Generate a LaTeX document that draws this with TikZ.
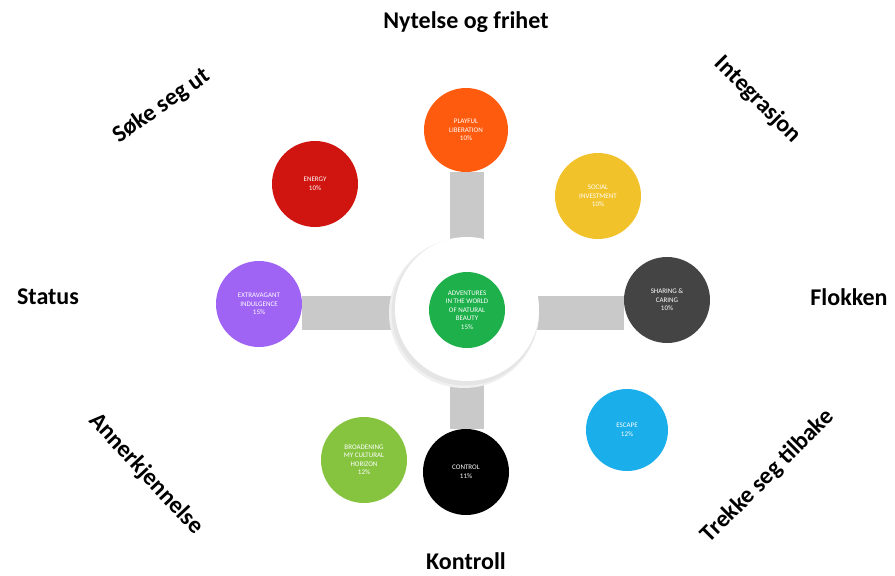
\documentclass[tikz,border=0pt]{standalone}
\usepackage{fontspec}
\setmainfont{Carlito}
\usetikzlibrary{backgrounds}
\definecolor{cOrange}{HTML}{FF5B0F}
\definecolor{cRed}{HTML}{D0140F}
\definecolor{cYellow}{HTML}{F2C22A}
\definecolor{cPurple}{HTML}{A064F5}
\definecolor{cGreen}{HTML}{1DB04B}
\definecolor{cDark}{HTML}{444444}
\definecolor{cLime}{HTML}{86C440}
\definecolor{cBlue}{HTML}{1AAEEB}
\definecolor{cBar}{HTML}{C9C9C9}
\tikzset{
  seg/.style={circle, fill=#1, text=white, minimum size=86pt, inner sep=0pt, align=center,
              font=\fontsize{7}{8.5}\selectfont},
  hub/.style={circle, fill=white, minimum size=144pt, inner sep=0pt},
  bar/.style={cBar, line width=34pt},
  lab/.style={font=\fontsize{24}{29}\selectfont\bfseries, text=black, inner sep=0pt}
}
\begin{document}
\begin{tikzpicture}[x=1pt,y=-1pt]
\useasboundingbox (0,0) rectangle (895,576);
% soft shadow of hub
\fill[black!6] (464,313) circle (75);
\fill[black!10] (465,312) circle (73.5);
\node[hub] (hub) at (467,309) {};
\node[seg=cGreen, minimum size=76pt] (center) at (467,310) {ADVENTURES\\IN THE WORLD\\OF NATURAL\\BEAUTY\\15\%};
\node[seg=cOrange, minimum size=84pt] (play) at (466,130) {PLAYFUL\\LIBERATION\\10\%};
\node[seg=cRed] (energy) at (315,184) {ENERGY\\10\%};
\node[seg=cYellow] (social) at (598,196) {SOCIAL\\INVESTMENT\\10\%};
\node[seg=cPurple] (extra) at (259,304) {EXTRAVAGANT\\INDULGENCE\\15\%};
\node[seg=cDark] (share) at (667,300) {SHARING \&\\CARING\\10\%};
\node[seg=cLime] (broad) at (364,460) {BROADENING\\MY CULTURAL\\HORIZON\\12\%};
\node[seg=black] (control) at (466,472) {CONTROL\\11\%};
\node[seg=cBlue, minimum size=82pt] (escape) at (627,430) {ESCAPE\\12\%};
\begin{scope}[on background layer]
  \draw[bar] (hub.center) -- (hub.center |- play.south);
  \draw[bar] (hub.center) -- (hub.center |- control.north);
  \draw[bar] ([yshift=-4pt]hub.center) -- ([yshift=-4pt]hub.center -| extra.east);
  \draw[bar] ([yshift=-4pt]hub.center) -- ([yshift=-4pt]hub.center -| share.west);
\end{scope}
\node[lab] (n1) at (466,22) {Nytelse og frihet};
\node[lab, rotate=35] (n2) at (162,106) {Søke seg ut};
\node[lab, rotate=-45] (n3) at (758,100) {Integrasjon};
\node[lab] (n4) at (48,297) {Status};
\node[lab] (n5) at (849,297) {Flokken};
\node[lab, rotate=-47] (n6) at (146,474) {Annerkjennelse};
\node[lab, rotate=45] (n7) at (768,476) {Trekke seg tilbake};
\node[lab] (n8) at (466,561) {Kontroll};
\end{tikzpicture}
\end{document}
